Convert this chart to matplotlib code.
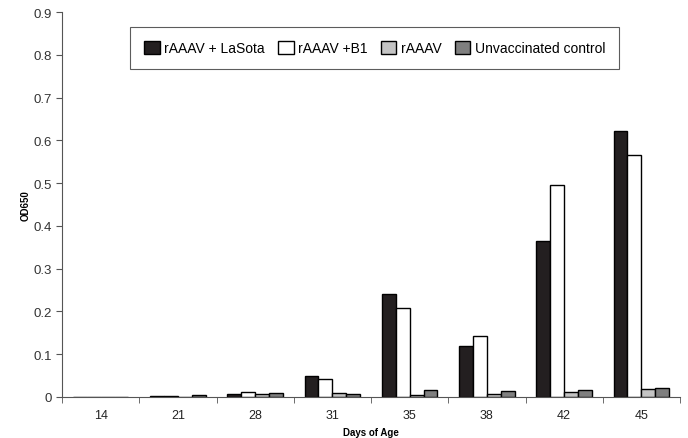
import matplotlib
matplotlib.use("Agg")
import matplotlib.pyplot as plt
import numpy as np

plt.rcParams['font.family'] = ['Liberation Sans', 'DejaVu Sans']

days = ["14", "21", "28", "31", "35", "38", "42", "45"]
lasota = [0.0, 0.003, 0.008, 0.050, 0.240, 0.120, 0.365, 0.622]
b1 = [0.0, 0.002, 0.011, 0.042, 0.207, 0.143, 0.495, 0.566]
raaav = [0.0, 0.001, 0.006, 0.009, 0.005, 0.006, 0.011, 0.018]
control = [0.001, 0.004, 0.009, 0.008, 0.017, 0.015, 0.017, 0.020]
series = [("rAAAV + LaSota", lasota, "#231f20"),
          ("rAAAV +B1", b1, "#ffffff"),
          ("rAAAV", raaav, "#c4c4c4"),
          ("Unvaccinated control", control, "#7f7f7f")]

fig = plt.figure(figsize=(6.88, 4.39), dpi=100)
ax = fig.add_axes([62/688, 41/439, 618/688, 385/439])
x = np.arange(len(days))
w = 0.18
for i, (name, vals, col) in enumerate(series):
    ax.bar(x + (i - 1.5) * w, vals, w, color=col, edgecolor="black", linewidth=1.0, label=name)

ax.set_xlim(-0.5, len(days) - 0.5)
ax.set_ylim(0, 0.9)
ax.set_yticks(np.arange(0, 0.91, 0.1))
ax.set_yticklabels(["0"] + [f"{v:.1f}" for v in np.arange(0.1, 0.91, 0.1)])
ax.set_xticks(x)
ax.set_xticklabels(days)
ax.set_xticks(np.arange(-0.5, len(days), 1.0), minor=True)
ax.tick_params(axis='x', which='major', length=0, labelsize=9, pad=9, labelcolor='#222222')
ax.tick_params(axis='x', which='minor', length=4, direction='out', color='#555555')
ax.tick_params(axis='y', length=4, direction='out', labelsize=9.5, color='#555555', labelcolor='#333333', pad=3)
for s in ['top', 'right']:
    ax.spines[s].set_visible(False)
for s in ['left', 'bottom']:
    ax.spines[s].set_color('#555555')
ax.set_xlabel("Days of Age", fontsize=7, fontweight='bold', labelpad=4)
ax.set_ylabel("OD650", fontsize=7, fontweight='bold', labelpad=2)

leg = ax.legend(loc='upper center', bbox_to_anchor=(0.506, 0.962), ncol=4, frameon=True,
                fancybox=False, edgecolor='#333333', fontsize=10, handlelength=1.1,
                handleheight=1.1, handletextpad=0.3, columnspacing=1.0,
                borderpad=1.0, borderaxespad=0)
leg.get_frame().set_linewidth(0.8)

fig.savefig("out.png", dpi=100)
